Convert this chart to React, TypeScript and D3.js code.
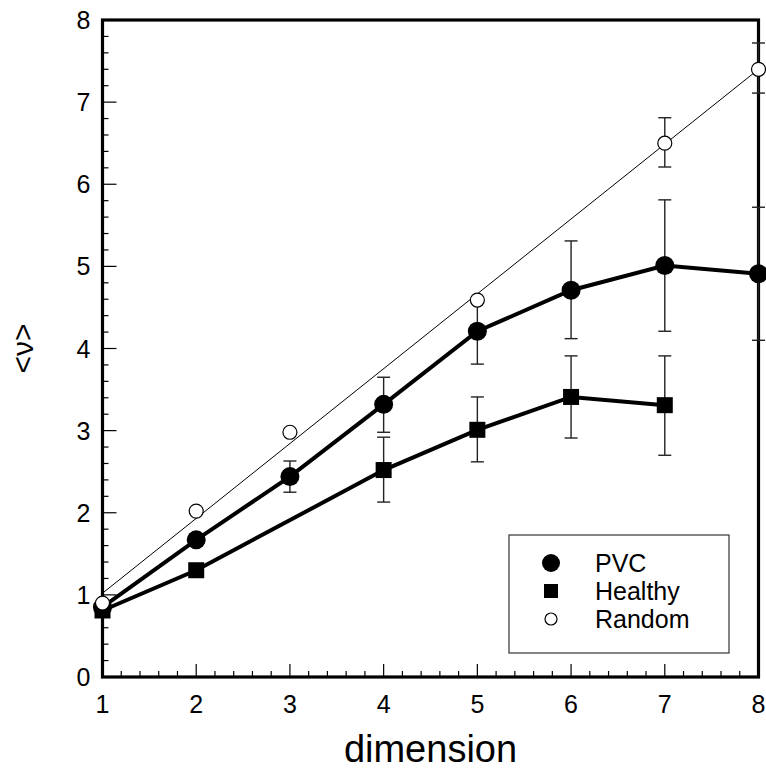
import React from "react";
import * as d3 from "d3";

const dims = [1, 2, 3, 4, 5, 6, 7, 8];
const pvcX = [1, 2, 3, 4, 5, 6, 7, 8];
const pvcY = [0.85, 1.67, 2.44, 3.32, 4.21, 4.71, 5.01, 4.91];
const pvcLo = [null, null, 2.25, 2.98, 3.81, 4.12, 4.21, 4.1];
const pvcHi = [null, null, 2.63, 3.65, 4.58, 5.31, 5.81, 5.72];
const healthyX = [1, 2, 4, 5, 6, 7];
const healthyY = [0.81, 1.3, 2.52, 3.01, 3.41, 3.31];
const healthyLo = [null, null, 2.13, 2.62, 2.91, 2.7];
const healthyHi = [null, null, 2.92, 3.41, 3.91, 3.91];
const randomX = [1, 2, 3, 5, 7, 8];
const randomY = [0.9, 2.02, 2.98, 4.59, 6.5, 7.4];
const randomLo = [null, null, null, null, 6.21, 7.11];
const randomHi = [null, null, null, null, 6.81, 7.72];
const randomFitX = [1, 8];
const randomFitY = [1.02, 7.4];
const yTicks = [0, 1, 2, 3, 4, 5, 6, 7, 8];
const legendLabels = ["PVC", "Healthy", "Random"];

const W = 766;
const H = 769;
const FONT = "'Liberation Sans', Arial, sans-serif";

export default function App() {
  const x = d3.scaleLinear().domain([1, 8]).range([102.5, 758.5]);
  const y = d3.scaleLinear().domain([0, 8]).range([677, 20]);
  const line = d3
    .line<[number, number]>()
    .x((d) => x(d[0]))
    .y((d) => y(d[1]));

  const xMinor = d3.range(1, 8.001, 0.2).filter((v) => Math.abs(v - Math.round(v)) > 1e-6);
  const yMinor = d3.range(0, 8.001, 0.2).filter((v) => Math.abs(v - Math.round(v)) > 1e-6);

  const errBars = (
    xs: number[],
    lo: (number | null)[],
    hi: (number | null)[],
    key: string
  ) =>
    xs.map((xv, i) => {
      const l = lo[i];
      const h = hi[i];
      if (l == null || h == null) return null;
      const cx = x(xv);
      return (
        <g key={key + i} stroke="#222" strokeWidth={1.4}>
          <line x1={cx} x2={cx} y1={y(l)} y2={y(h)} />
          <line x1={cx - 6.5} x2={cx + 6.5} y1={y(l)} y2={y(l)} />
          <line x1={cx - 6.5} x2={cx + 6.5} y1={y(h)} y2={y(h)} />
        </g>
      );
    });

  const pvcPts = pvcX.map((v, i) => [v, pvcY[i]] as [number, number]);
  const healthyPts = healthyX.map((v, i) => [v, healthyY[i]] as [number, number]);
  const fitPts = randomFitX.map((v, i) => [v, randomFitY[i]] as [number, number]);

  const legX = 509;
  const legY = 535;
  const legW = 220;
  const legH = 118;

  return (
    <svg
      width={W}
      height={H}
      style={{ position: "absolute", left: 0, top: 0, background: "#fff" }}
      fontFamily={FONT}
    >
      <rect x={0} y={0} width={W} height={H} fill="#fff" />
      {/* ticks */}
      <g stroke="#000" strokeWidth={1.2}>
        {dims.map((d) => (
          <line key={"xM" + d} x1={x(d)} x2={x(d)} y1={y(0)} y2={y(0) - 13} />
        ))}
        {xMinor.map((d, i) => (
          <line key={"xm" + i} x1={x(d)} x2={x(d)} y1={y(0)} y2={y(0) - 6} />
        ))}
        {yTicks.map((t) => (
          <line key={"yM" + t} x1={x(1)} x2={x(1) + 14} y1={y(t)} y2={y(t)} />
        ))}
        {yMinor.map((t, i) => (
          <line key={"ym" + i} x1={x(1)} x2={x(1) + 6} y1={y(t)} y2={y(t)} />
        ))}
      </g>
      {/* frame */}
      <rect
        x={x(1)}
        y={y(8)}
        width={x(8) - x(1)}
        height={y(0) - y(8)}
        fill="none"
        stroke="#000"
        strokeWidth={3.2}
      />
      {/* tick labels */}
      <g fontSize={25} fill="#000">
        {dims.map((d) => (
          <text key={"xl" + d} x={x(d)} y={y(0) + 36} textAnchor="middle">
            {d}
          </text>
        ))}
        {yTicks.map((t) => (
          <text key={"yl" + t} x={x(1) - 12} y={y(t) + 9} textAnchor="end">
            {t}
          </text>
        ))}
      </g>
      <text x={x(4.5)} y={762} fontSize={38} textAnchor="middle" fill="#000">
        dimension
      </text>
      <text
        transform={`translate(33, ${y(4)}) rotate(-90)`}
        fontSize={30}
        textAnchor="middle"
        fill="#000"
      >
        {"<ν>"}
      </text>

      {/* error bars */}
      {errBars(pvcX, pvcLo, pvcHi, "pe")}
      {errBars(healthyX, healthyLo, healthyHi, "he")}
      {errBars(randomX, randomLo, randomHi, "re")}

      {/* lines */}
      <path d={line(fitPts) || ""} fill="none" stroke="#000" strokeWidth={1} />
      <path d={line(healthyPts) || ""} fill="none" stroke="#000" strokeWidth={4} />
      <path d={line(pvcPts) || ""} fill="none" stroke="#000" strokeWidth={4} />

      {/* markers */}
      {healthyPts.map((p, i) => (
        <rect key={"hs" + i} x={x(p[0]) - 8} y={y(p[1]) - 8} width={16} height={16} fill="#000" />
      ))}
      {pvcPts.map((p, i) => (
        <circle key={"pc" + i} cx={x(p[0])} cy={y(p[1])} r={9.5} fill="#000" />
      ))}
      {randomX.map((v, i) => (
        <circle
          key={"rc" + i}
          cx={x(v)}
          cy={y(randomY[i])}
          r={7}
          fill="#fff"
          stroke="#000"
          strokeWidth={1.2}
        />
      ))}

      {/* legend */}
      <rect x={legX} y={legY} width={legW} height={legH} fill="#fff" stroke="#333" strokeWidth={1.2} />
      <circle cx={551} cy={563} r={9} fill="#000" />
      <rect x={544} y={584} width={14} height={14} fill="#000" />
      <circle cx={551} cy={619} r={6} fill="#fff" stroke="#000" strokeWidth={1.2} />
      <g fontSize={25} fill="#000">
        {legendLabels.map((l, i) => (
          <text key={l} x={595} y={572 + i * 28}>
            {l}
          </text>
        ))}
      </g>
    </svg>
  );
}
